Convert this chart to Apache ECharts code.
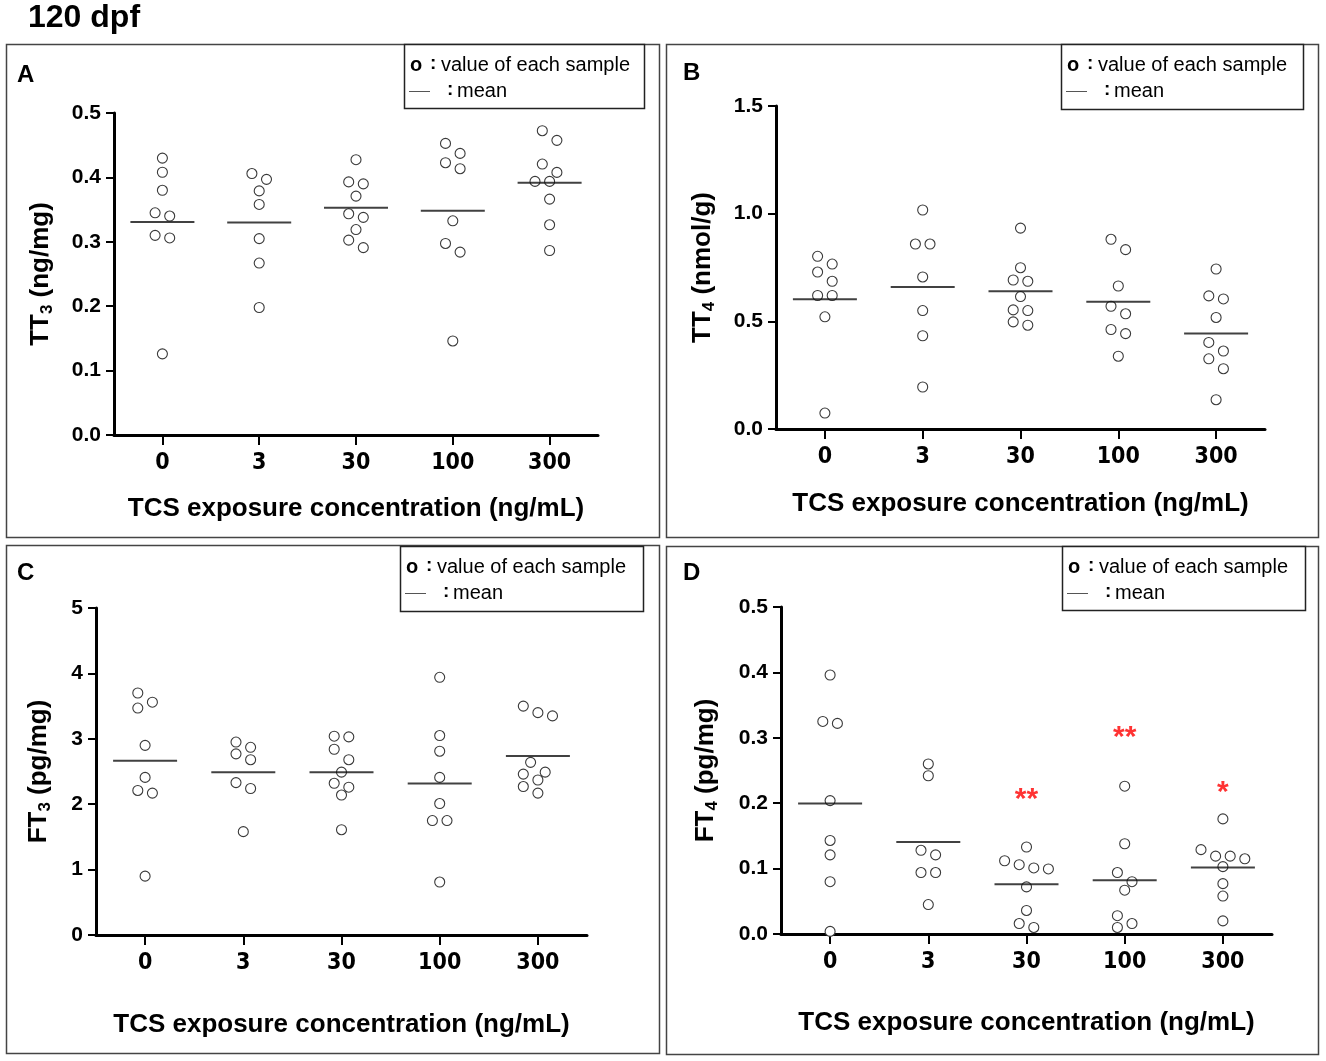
<!DOCTYPE html>
<html>
<head>
<meta charset="utf-8">
<script src="https://cdn.jsdelivr.net/npm/echarts@6/dist/echarts.min.js"></script>
<style>
html, body { margin: 0; padding: 0; background: #fff; }
#main { width: 1326px; height: 1061px; }
</style>
</head>
<body>
<div id="main"></div>
<script>
// TCS exposure groups (ng/mL)
var categories = ['0', '3', '30', '100', '300'];

// one list of sample values per exposure group
var tt3 = [
    [0.430, 0.408, 0.380, 0.345, 0.340, 0.310, 0.306, 0.126],
    [0.406, 0.397, 0.379, 0.358, 0.305, 0.267, 0.198],
    [0.4275, 0.393, 0.390, 0.371, 0.3435, 0.338, 0.319, 0.3026, 0.291],
    [0.4528, 0.4373, 0.4228, 0.4135, 0.3326, 0.2974, 0.284, 0.146],
    [0.4725, 0.4575, 0.4207, 0.4078, 0.3938, 0.3938, 0.3663, 0.3264, 0.2865]
];
var tt4 = [
    [0.802, 0.766, 0.729, 0.686, 0.620, 0.620, 0.521, 0.074],
    [1.017, 0.859, 0.859, 0.706, 0.550, 0.433, 0.195],
    [0.933, 0.749, 0.692, 0.686, 0.615, 0.553, 0.550, 0.4975, 0.482],
    [0.881, 0.833, 0.664, 0.570, 0.535, 0.462, 0.443, 0.338],
    [0.743, 0.618, 0.604, 0.518, 0.402, 0.362, 0.326, 0.280, 0.136]
];
var ft3 = [
    [3.70, 3.56, 3.47, 2.90, 2.41, 2.21, 2.17, 0.90],
    [2.95, 2.87, 2.77, 2.68, 2.33, 2.24, 1.58],
    [3.04, 3.03, 2.84, 2.68, 2.49, 2.32, 2.26, 2.14, 1.61],
    [3.94, 3.05, 2.81, 2.41, 2.01, 1.75, 1.75, 0.81],
    [3.50, 3.40, 3.35, 2.64, 2.49, 2.46, 2.37, 2.27, 2.17]
];
var ft4 = [
    [0.396, 0.325, 0.322, 0.204, 0.143, 0.121, 0.080, 0.004],
    [0.260, 0.242, 0.128, 0.121, 0.094, 0.094, 0.045],
    [0.133, 0.112, 0.106, 0.101, 0.0995, 0.072, 0.036, 0.016, 0.010],
    [0.226, 0.138, 0.094, 0.080, 0.067, 0.028, 0.016, 0.010],
    [0.176, 0.129, 0.119, 0.119, 0.115, 0.103, 0.077, 0.058, 0.020]
];
// significance marks on FT4
var ft4Stars = ['', '', '**', '**', '*'];
var ft4StarY = [null, null, 0.215, 0.31, 0.225];

var narrow = '"Liberation Sans Narrow", "Arial Narrow", "DejaVu Sans Condensed", "Liberation Sans", sans-serif';
var sans = '"Liberation Sans", Arial, sans-serif';

var panels = [
    {letter: 'A', values: tt3, max: 0.5, interval: 0.1, dec: 1, yName: ['TT', '3', ' (ng/mg)'],
     grid: {left: 114, top: 113, width: 484, height: 322}, xGap: 61, yGap: 58,
     frame: [6, 44, 653, 493], legend: [404, 44, 240, 64], letterPos: [17, 75]},
    {letter: 'B', values: tt4, max: 1.5, interval: 0.5, dec: 1, yName: ['TT', '4', ' (nmol/g)'],
     grid: {left: 776, top: 106, width: 489, height: 323}, xGap: 62, yGap: 58,
     frame: [666, 44, 652, 493], legend: [1061, 44, 242, 65], letterPos: [683, 73]},
    {letter: 'C', values: ft3, max: 5, interval: 1, dec: 0, yName: ['FT', '3', ' (pg/mg)'],
     grid: {left: 96, top: 608, width: 491, height: 327}, xGap: 77, yGap: 42,
     frame: [6, 545, 653, 508], legend: [400, 546, 243, 65], letterPos: [17, 573]},
    {letter: 'D', values: ft4, max: 0.5, interval: 0.1, dec: 1, yName: ['FT', '4', ' (pg/mg)'],
     grid: {left: 781, top: 607, width: 491, height: 327}, xGap: 76, yGap: 60,
     frame: [666, 546, 652, 508], legend: [1062, 546, 243, 64], letterPos: [683, 573]}
];

// GraphPad-like scatter spreading: rows of close values side by side,
// shifted sideways when they would overlap points already placed
function swarm(values, pxPerUnit) {
    var D = 10.5, h = 7.3;
    var order = values.map(function (v, i) { return i; })
        .sort(function (a, b) { return values[b] - values[a]; });
    var placed = [];
    var off = [];
    var i = 0;
    while (i < order.length) {
        var row = [order[i]];
        var top = values[order[i]] * pxPerUnit;
        var j = i + 1;
        while (j < order.length && top - values[order[j]] * pxPerUnit < D) {
            row.push(order[j]);
            j++;
        }
        var base = row.map(function (k, n) { return (n - (row.length - 1) / 2) * 2 * h; });
        var shifts = [0, -h, h, -2 * h, 2 * h, -3 * h, 3 * h];
        var chosen = base;
        for (var s = 0; s < shifts.length; s++) {
            var cand = base.map(function (b) { return b + shifts[s]; });
            var ok = cand.every(function (x, n) {
                var y = values[row[n]] * pxPerUnit;
                return placed.every(function (p) {
                    return Math.sqrt((p.x - x) * (p.x - x) + (p.y - y) * (p.y - y)) >= D * 0.95;
                });
            });
            if (ok) { chosen = cand; break; }
        }
        chosen.forEach(function (x, n) {
            off[row[n]] = x;
            placed.push({x: x, y: values[row[n]] * pxPerUnit});
        });
        i = j;
    }
    return off;
}

function mean(arr) {
    return arr.reduce(function (a, b) { return a + b; }, 0) / arr.length;
}

var grids = [], xAxes = [], yAxes = [], series = [], graphics = [];

panels.forEach(function (p, pi) {
    grids.push({left: p.grid.left, top: p.grid.top, width: p.grid.width, height: p.grid.height,
        containLabel: false, outerBoundsMode: 'none'});

    xAxes.push({
        type: 'category', gridIndex: pi, data: categories,
        axisLine: {show: true, lineStyle: {color: '#000', width: 3}},
        axisTick: {show: true, alignWithLabel: true, length: 10, lineStyle: {color: '#000', width: 2}},
        axisLabel: {color: '#000', fontWeight: 'bold', fontSize: 23, fontFamily: narrow, margin: 17, interval: 0},
        splitLine: {show: false},
        name: 'TCS exposure concentration (ng/mL)', nameLocation: 'middle', nameGap: p.xGap,
        nameTextStyle: {color: '#000', fontWeight: 'bold', fontSize: 26, fontFamily: sans}
    });

    yAxes.push({
        type: 'value', gridIndex: pi, min: 0, max: p.max, interval: p.interval,
        axisLine: {show: true, lineStyle: {color: '#000', width: 3}},
        axisTick: {show: true, length: 8, lineStyle: {color: '#000', width: 2}},
        axisLabel: {color: '#000', fontWeight: 'bold', fontSize: 21, fontFamily: sans, margin: 13,
            formatter: function (v) { return v.toFixed(p.dec); }},
        splitLine: {show: false},
        name: '{a|' + p.yName[0] + '}{s|' + p.yName[1] + '}{a|' + p.yName[2] + '}',
        nameLocation: 'middle', nameGap: p.yGap, nameRotate: 90,
        nameTextStyle: {
            color: '#000', fontFamily: sans,
            rich: {
                a: {fontSize: 26, fontWeight: 'bold', fontFamily: sans, color: '#000', lineHeight: 30},
                s: {fontSize: 17, fontWeight: 'bold', fontFamily: sans, color: '#000', lineHeight: 14, verticalAlign: 'bottom'}
            }
        }
    });

    var pxPerUnit = p.grid.height / p.max;
    var points = [], means = [];
    p.values.forEach(function (group, g) {
        var off = swarm(group, pxPerUnit);
        group.forEach(function (v, k) {
            points.push({value: [g, v], symbolOffset: [off[k], 0]});
        });
        means.push([g, mean(group)]);
    });

    series.push({
        type: 'scatter', xAxisIndex: pi, yAxisIndex: pi, data: points,
        symbol: 'circle', symbolSize: 10, z: 3,
        itemStyle: {color: '#fff', borderColor: '#3a3a3a', borderWidth: 1.1, opacity: 1},
        emphasis: {disabled: true}
    });
    series.push({
        type: 'scatter', xAxisIndex: pi, yAxisIndex: pi, data: means,
        symbol: 'rect', symbolSize: [64, 2], z: 4,
        itemStyle: {color: '#111'},
        emphasis: {disabled: true}
    });

    // panel frame
    graphics.push({type: 'rect', shape: {x: p.frame[0] + 0.5, y: p.frame[1] + 0.5, width: p.frame[2], height: p.frame[3]},
        style: {fill: 'none', stroke: '#444', lineWidth: 1.5}, z: 1});
    // panel letter
    graphics.push({type: 'text', x: p.letterPos[0], y: p.letterPos[1],
        style: {text: p.letter, fill: '#000', font: 'bold 24px ' + sans, verticalAlign: 'middle'}});
    // legend box
    var lx = p.legend[0], ly = p.legend[1];
    graphics.push({type: 'rect', shape: {x: lx + 0.5, y: ly + 0.5, width: p.legend[2], height: p.legend[3]},
        style: {fill: '#fff', stroke: '#222', lineWidth: 1.5}, z: 2});
    graphics.push({type: 'text', x: lx + 6, y: ly + 21, z: 3,
        style: {text: 'o', fill: '#000', font: 'bold 20px ' + sans, verticalAlign: 'middle'}});
    graphics.push({type: 'text', x: lx + 26, y: ly + 20, z: 3,
        style: {text: ':', fill: '#000', font: 'bold 19px ' + sans, verticalAlign: 'middle'}});
    graphics.push({type: 'text', x: lx + 37, y: ly + 21, z: 3,
        style: {text: 'value of each sample', fill: '#000', font: '20px ' + sans, verticalAlign: 'middle'}});
    graphics.push({type: 'line', shape: {x1: lx + 5, y1: ly + 47.5, x2: lx + 26, y2: ly + 47.5}, z: 3,
        style: {stroke: '#555', lineWidth: 1}});
    graphics.push({type: 'text', x: lx + 43, y: ly + 46, z: 3,
        style: {text: ':', fill: '#000', font: 'bold 19px ' + sans, verticalAlign: 'middle'}});
    graphics.push({type: 'text', x: lx + 53, y: ly + 47, z: 3,
        style: {text: 'mean', fill: '#000', font: '20px ' + sans, verticalAlign: 'middle'}});
});

// red significance stars in panel D
var starData = [];
ft4Stars.forEach(function (s, g) {
    if (s) starData.push({value: [g, ft4StarY[g]], mark: s});
});
series.push({
    type: 'scatter', xAxisIndex: 3, yAxisIndex: 3, data: starData,
    symbol: 'circle', symbolSize: 2, itemStyle: {color: 'rgba(0,0,0,0)'}, z: 5,
    label: {show: true, position: 'inside', offset: [0, 6], color: '#ff0000', fontSize: 30, fontWeight: 'bold',
        fontFamily: sans, formatter: function (pr) { return pr.data.mark; }},
    emphasis: {disabled: true}
});

// figure title
graphics.push({type: 'text', x: 28, y: 18,
    style: {text: '120 dpf', fill: '#000', font: 'bold 32px ' + sans, verticalAlign: 'middle'}});

var myChart = echarts.init(document.getElementById('main'));
myChart.setOption({
    animation: false,
    backgroundColor: '#fff',
    tooltip: {show: false},
    grid: grids,
    xAxis: xAxes,
    yAxis: yAxes,
    series: series,
    graphic: {elements: graphics}
});
window.addEventListener('resize', function () {
    myChart.resize();
});
</script>
</body>
</html>
